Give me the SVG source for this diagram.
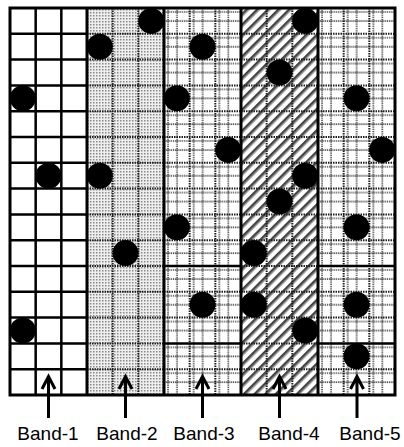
<svg xmlns="http://www.w3.org/2000/svg" width="404" height="447" viewBox="0 0 404 447">
<style>
.g1{stroke:#000;stroke-width:2.5;fill:none}
.gd{stroke:#1e1e1e;stroke-width:2;stroke-dasharray:1.5 1;fill:none}
.bd{stroke:#000;stroke-width:3;fill:none}
.thk{stroke:#000;stroke-width:2.5;fill:none}
.dot{fill:#000}
.arr{stroke:#000;stroke-width:3;fill:none;stroke-linejoin:miter}
.lbl{font-family:"Liberation Sans",Arial,sans-serif;font-size:19px;fill:#000;text-anchor:middle}
</style>
<defs>
<pattern id="stip" patternUnits="userSpaceOnUse" width="3" height="3">
<rect width="3" height="3" fill="#eeeeee"/>
<rect width="1.5" height="1.5" fill="#8a8a8a"/>
</pattern>
<pattern id="plaid" patternUnits="userSpaceOnUse" x="10" y="8" width="25.67" height="25.8">
<rect width="25.67" height="25.8" fill="#fff"/>
<path d="M4,0V25.8M13,0V25.8M0,4H25.67M0,13H25.67" stroke="#3a3a3a" stroke-width="1.6" stroke-dasharray="1.2 1" fill="none"/>
</pattern>
<pattern id="diag" patternUnits="userSpaceOnUse" width="7.5" height="7.5" patternTransform="rotate(45)">
<rect width="7.5" height="7.5" fill="#fff"/>
<rect x="0" width="2.6" height="7.5" fill="#444"/>
<rect x="2.6" width="1" height="7.5" fill="#aaa"/>
</pattern>
</defs>

<g id="band1">
<rect x="10" y="8" width="77" height="387" fill="#fff"/>
<path class="g1" d="M35.67,8V395M61.33,8V395M10,33.8H87M10,59.6H87M10,85.4H87M10,111.2H87M10,137H87M10,162.8H87M10,188.6H87M10,214.4H87M10,240.2H87M10,266H87M10,291.8H87M10,317.6H87M10,343.4H87M10,369.2H87"/>
<circle class="dot" cx="22.83" cy="98.3" r="13"/>
<circle class="dot" cx="48.5" cy="175.7" r="13"/>
<circle class="dot" cx="22.83" cy="330.5" r="13"/>
<text class="lbl" x="48" y="440">Band-1</text>
</g>

<g id="band2">
<rect x="87" y="8" width="77" height="387" fill="url(#stip)"/>
<path class="gd" d="M112.67,8V395M138.33,8V395M87,33.8H164M87,59.6H164M87,85.4H164M87,111.2H164M87,137H164M87,162.8H164M87,188.6H164M87,214.4H164M87,240.2H164M87,266H164M87,291.8H164M87,317.6H164M87,343.4H164M87,369.2H164"/>
<circle class="dot" cx="151.17" cy="20.9" r="13"/>
<circle class="dot" cx="99.83" cy="46.7" r="13"/>
<circle class="dot" cx="99.83" cy="175.7" r="13"/>
<circle class="dot" cx="125.5" cy="253.1" r="13"/>
<text class="lbl" x="127" y="440">Band-2</text>
</g>

<g id="band3">
<rect x="164" y="8" width="77" height="387" fill="url(#plaid)"/>
<path class="gd" d="M189.67,8V395M215.33,8V395M164,33.8H241M164,59.6H241M164,85.4H241M164,111.2H241M164,137H241M164,162.8H241M164,188.6H241M164,214.4H241M164,240.2H241M164,291.8H241M164,317.6H241M164,369.2H241"/>
<path class="thk" d="M164,266H241M164,343.4H241"/>
<circle class="dot" cx="202.5" cy="46.7" r="13"/>
<circle class="dot" cx="176.83" cy="98.3" r="13"/>
<circle class="dot" cx="228.17" cy="149.9" r="13"/>
<circle class="dot" cx="176.83" cy="227.3" r="13"/>
<circle class="dot" cx="202.5" cy="304.7" r="13"/>
<text class="lbl" x="204" y="440">Band-3</text>
</g>

<g id="band4">
<rect x="241" y="8" width="77" height="387" fill="url(#diag)"/>
<path class="gd" d="M266.67,8V395M292.33,8V395M241,33.8H318M241,59.6H318M241,85.4H318M241,111.2H318M241,137H318M241,162.8H318M241,188.6H318M241,214.4H318M241,240.2H318M241,266H318M241,291.8H318M241,317.6H318M241,343.4H318M241,369.2H318"/>
<circle class="dot" cx="305.17" cy="20.9" r="13"/>
<circle class="dot" cx="279.5" cy="72.5" r="13"/>
<circle class="dot" cx="305.17" cy="175.7" r="13"/>
<circle class="dot" cx="279.5" cy="201.5" r="13"/>
<circle class="dot" cx="253.83" cy="253.1" r="13"/>
<circle class="dot" cx="253.83" cy="304.7" r="13"/>
<circle class="dot" cx="305.17" cy="330.5" r="13"/>
<text class="lbl" x="289" y="440">Band-4</text>
</g>

<g id="band5">
<rect x="318" y="8" width="77" height="387" fill="url(#plaid)"/>
<path class="gd" d="M343.67,8V395M369.33,8V395M318,33.8H395M318,59.6H395M318,85.4H395M318,111.2H395M318,137H395M318,162.8H395M318,188.6H395M318,214.4H395M318,240.2H395M318,291.8H395M318,317.6H395M318,369.2H395"/>
<path class="thk" d="M318,266H395M318,343.4H395"/>
<circle class="dot" cx="356.5" cy="98.3" r="13"/>
<circle class="dot" cx="382.17" cy="149.9" r="13"/>
<circle class="dot" cx="356.5" cy="227.3" r="13"/>
<circle class="dot" cx="356.5" cy="304.7" r="13"/>
<circle class="dot" cx="356.5" cy="356.3" r="13"/>
<text class="lbl" x="370" y="440">Band-5</text>
</g>

<g id="frame">
<path class="bd" d="M10,8H395V395H10Z M87,8V395M164,8V395M241,8V395M318,8V395"/>
</g>

<g id="connectors">
<path class="arr" d="M48.5,418V377M42,389L48.5,376.5L55,389"/>
<path class="arr" d="M125.5,418V377M119,389L125.5,376.5L132,389"/>
<path class="arr" d="M202.5,418V377M196,389L202.5,376.5L209,389"/>
<path class="arr" d="M279.5,418V377M273,389L279.5,376.5L286,389"/>
<path class="arr" d="M357,418V377M350.5,389L357,376.5L363.5,389"/>
</g>
</svg>
